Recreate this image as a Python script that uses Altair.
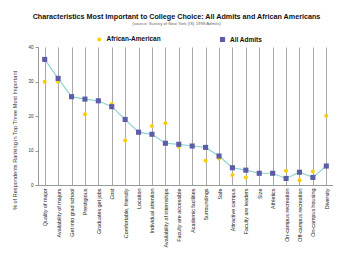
import altair as alt
import pandas as pd

categories = [
    "Quality of major", "Availability of majors", "Get into grad school", "Prestigious",
    "Graduates get jobs", "Cost", "Comfortable, friendly", "Location", "Individual attention",
    "Availability of internships", "Faculty are accessible", "Academic facilities",
    "Surroundings", "Safe", "Attractive campus", "Faculty are leaders", "Size", "Athletics",
    "On-campus recreation", "Off-campus recreation", "On-campus housing", "Diversity",
]
all_admits = [36.4, 30.9, 25.6, 24.9, 24.4, 22.7, 19.0, 15.3, 14.7, 12.1, 11.8, 11.3,
              10.9, 8.4, 5.0, 4.3, 3.4, 3.4, 1.9, 3.7, 2.2, 5.5]
african_american = [29.9, 29.9, 25.5, 20.5, 24.4, 23.5, 12.9, 15.3, 17.1, 17.9, 11.1, 11.3,
                    7.0, 7.7, 2.9, 2.2, 3.4, 3.4, 4.1, 1.4, 3.9, 20.1]
series_names = ["African-American", "All Admits"]
y_ticks = [0, 10, 20, 30, 40]

rows = []
for c, v in zip(categories, african_american):
    rows.append({"category": c, "series": series_names[0], "value": v})
for c, v in zip(categories, all_admits):
    rows.append({"category": c, "series": series_names[1], "value": v})
df = pd.DataFrame(rows)

FONT = "Liberation Sans"

x_enc = alt.X(
    "category:N", sort=categories, title=None,
    scale=alt.Scale(paddingInner=0, paddingOuter=0),
    axis=alt.Axis(
        labelAngle=-90, labelFontSize=5.4, labelFont=FONT, labelColor="#222",
        labelPadding=3, ticks=False, domainColor="#999",
        grid=True, gridColor="#a8a8a8", gridWidth=1, bandPosition=0,
        labelLimit=200,
    ),
)
y_enc = alt.Y(
    "value:Q", title="% of Respondents Ranking in Top Three Most Important",
    scale=alt.Scale(domain=[0, 40], nice=False),
    axis=alt.Axis(
        values=y_ticks, grid=False, labelFontSize=4.5, labelFont=FONT, labelColor="#333",
        tickSize=3, tickColor="#999", domainColor="#999", labelPadding=2,
        titleFontSize=5.6, titleFont=FONT, titleFontWeight="normal", titleColor="#333",
        titleX=-21, titleY=93,
    ),
)

legend_kw = dict(title=None, orient="none", legendX=58, legendY=-11, direction="horizontal")

line = alt.Chart(df).transform_filter(
    alt.datum.series == "All Admits"
).mark_line(color="#8fd4d4", strokeWidth=1.2).encode(x=x_enc, y=y_enc)

points = alt.Chart(df).transform_calculate(
    order="datum.series == 'All Admits' ? 1 : 0"
).mark_point(filled=True, opacity=1).encode(
    x=x_enc, y=y_enc,
    color=alt.Color("series:N", scale=alt.Scale(domain=series_names, range=["#ffcc00", "#5c5ca8"]),
                    legend=alt.Legend(**legend_kw)),
    shape=alt.Shape("series:N", scale=alt.Scale(domain=series_names, range=["circle", "square"]),
                    legend=alt.Legend(**legend_kw)),
    size=alt.Size("series:N", scale=alt.Scale(domain=series_names, range=[16, 26]), legend=None),
    order=alt.Order("order:Q"),
)

chart = alt.layer(line, points).properties(
    width=295, height=138,
    background="white",
    autosize=alt.AutoSizeParams(type="none"),
    padding={"left": 30, "top": 39, "right": 0, "bottom": 67},
    title=alt.TitleParams(
        text="Characteristics Most Important to College Choice: All Admits and African Americans",
        subtitle="(source: Survey of New York (IS) 1998 Admits)",
        fontSize=7.2, font=FONT, fontWeight="bold", color="#111",
        subtitleFontSize=4.3, subtitleFont=FONT, subtitleColor="#666", subtitlePadding=2,
        anchor="middle", dx=-9, offset=10,
    ),
).configure_view(stroke=None).configure_legend(
    labelFont=FONT, labelFontSize=6.5, labelFontWeight="bold", labelColor="#111",
    symbolSize=22, columnPadding=58, labelOffset=4,
)

chart.save("out.html", embed_options={"renderer": "svg", "actions": False})
